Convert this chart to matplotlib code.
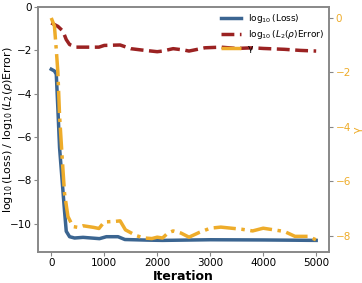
import matplotlib.pyplot as plt

# iteration samples and curves
it_loss = [0, 60, 95, 125, 157, 208, 250, 283, 346, 440, 600, 910, 1040, 1260, 1390, 1860, 2100, 3000, 4000, 5000]
loss = [-2.87, -2.95, -3.1, -4.7, -6.5, -8.1, -9.4, -10.35, -10.6, -10.66, -10.63, -10.69, -10.6, -10.6, -10.73, -10.76, -10.77, -10.74, -10.75, -10.77]

it_err = [0, 125, 220, 283, 346, 470, 600, 900, 1000, 1300, 1500, 1700, 2000, 2100, 2300, 2500, 2600, 2900, 3200, 3500, 3800, 4000, 4400, 4700, 5000]
err = [-0.73, -0.89, -1.11, -1.5, -1.73, -1.85, -1.85, -1.85, -1.77, -1.75, -1.92, -1.98, -2.06, -2.03, -1.92, -1.98, -2.03, -1.88, -1.85, -1.91, -1.88, -1.91, -1.95, -2.0, -2.03]

it_gam = [0, 60, 95, 125, 157, 208, 250, 315, 410, 505, 600, 800, 900, 1000, 1200, 1300, 1400, 1600, 1750, 1900, 2000, 2100, 2200, 2300, 2450, 2600, 2800, 3000, 3200, 3400, 3600, 3800, 4000, 4200, 4400, 4600, 4850, 5000]
gamma = [0.0, -0.3, -1.17, -2.0, -3.6, -5.2, -6.44, -7.3, -7.67, -7.7, -7.64, -7.7, -7.74, -7.5, -7.48, -7.46, -7.79, -8.0, -8.09, -8.11, -8.06, -8.09, -7.91, -7.83, -7.91, -8.06, -7.88, -7.73, -7.69, -7.73, -7.77, -7.83, -7.73, -7.79, -7.85, -8.03, -8.03, -8.16]

blue = '#3b6591'
red = '#9b2222'
orange = '#eeac2a'

fig, ax = plt.subplots(figsize=(3.62, 2.83), dpi=100)
ax2 = ax.twinx()

l1, = ax.plot(it_loss, loss, color=blue, lw=2.5, label=r'$\log_{10}$(Loss)')
l2, = ax.plot(it_err, err, color=red, lw=2.5, ls='--', label=r'$\log_{10}$($L_2(\rho)$Error)')
l3, = ax2.plot(it_gam, gamma, color=orange, lw=2.5, ls='-.', label='γ')

ax.set_ylim(-11.3, 0)
ax2.set_ylim(-8.6, 0.4)
ax.set_xticks([0, 1000, 2000, 3000, 4000, 5000])
ax.set_yticks([0, -2, -4, -6, -8, -10])
ax2.set_yticks([0, -2, -4, -6, -8])

ax.set_xlabel('Iteration', fontsize=9, fontweight='bold', labelpad=1)
ax.set_ylabel(r'$\log_{10}$(Loss) / $\log_{10}$($L_2(\rho)$Error)', fontsize=8)
ax.yaxis.set_label_coords(-0.078, 0.5)
ax2.set_ylabel('γ', color=orange, fontsize=8, labelpad=1)

ax.tick_params(labelsize=7.5, length=3, color='#888888', pad=1.5)
ax2.tick_params(labelsize=7.5, length=3, color='#888888', labelcolor=orange, pad=1.5)

for a in (ax, ax2):
    for s in a.spines.values():
        s.set_color('#888888')
        s.set_linewidth(1.2)

ax.legend(handles=[l1, l2, l3], loc='upper right', frameon=False, fontsize=6.5,
          handlelength=2.2, borderaxespad=0.2, labelspacing=0.3)

fig.subplots_adjust(left=0.105, right=0.91, top=0.975, bottom=0.11)
fig.savefig('out.png', dpi=100)
